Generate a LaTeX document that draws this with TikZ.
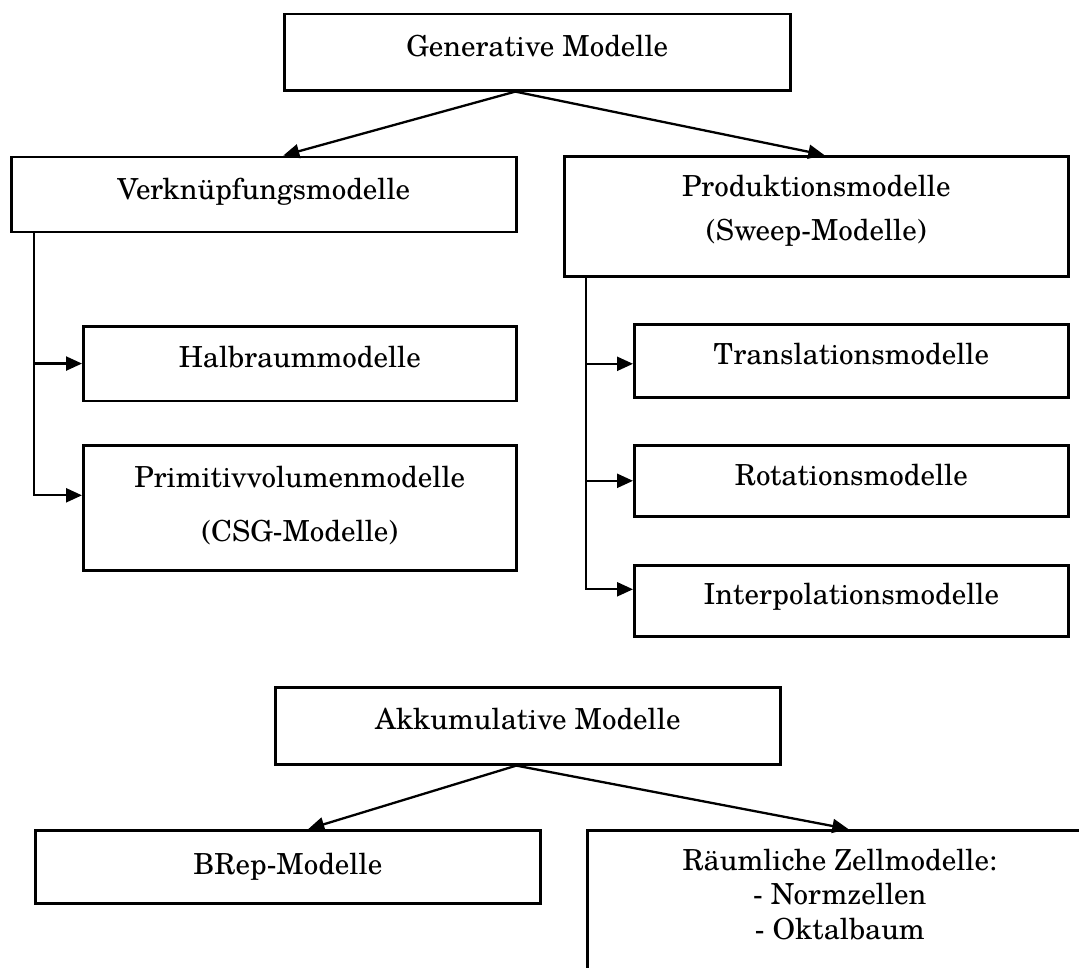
\documentclass[tikz,border=0pt]{standalone}
\usepackage{fontspec}
\setmainfont{TeX Gyre Schola}
\usetikzlibrary{arrows.meta,calc}
\begin{document}
\begin{tikzpicture}[x=1pt,y=-1pt,
  box/.style={draw, line width=2.6pt, rectangle, inner sep=0pt, anchor=north west,
    align=center, font=\fontsize{29}{44}\selectfont},
  wire/.style={line width=2.3pt, line join=miter, -{Triangle[length=16pt,width=14pt]}},
  plain/.style={line width=2.3pt}]
\fill[white] (0,0) rectangle (1079,967);
\useasboundingbox (0,0) rectangle (1079,967);
\clip (0,0) rectangle (1079,967);

% generative models
\node[box, minimum width=506pt, minimum height=76.5pt, text height=43pt, text depth=33.5pt]
  (gen) at (283,12.5) {Generative Modelle};
\node[box, minimum width=505pt, minimum height=75pt, text height=43pt, text depth=32pt]
  (verk) at (10,155.5) {Verknüpfungsmodelle};
\node[box, minimum width=504pt, minimum height=120pt, text height=84pt, text depth=36pt]
  (prod) at (563,155) {Produktionsmodelle\\(Sweep-Modelle)};

\node[box, minimum width=433pt, minimum height=74.5pt, text height=41pt, text depth=33.5pt]
  (halb) at (82,325) {Halbraummodelle};
\node[box, font=\fontsize{29}{54}\selectfont, minimum width=433pt, minimum height=125pt,
  text height=96pt, text depth=29pt]
  (prim) at (82,444) {Primitivvolumenmodelle\\(CSG-Modelle)};

\node[box, minimum width=434pt, minimum height=73pt, text height=40pt, text depth=33pt]
  (trans) at (633,323) {Translationsmodelle};
\node[box, minimum width=434pt, minimum height=71pt, text height=40pt, text depth=31pt]
  (rot) at (633,444) {Rotationsmodelle};
\node[box, minimum width=434pt, minimum height=71pt, text height=39pt, text depth=32pt]
  (interp) at (633,564) {Interpolationsmodelle};

% accumulative models
\node[box, minimum width=505pt, minimum height=77pt, text height=42pt, text depth=35pt]
  (akk) at (274,686) {Akkumulative Modelle};
\node[box, minimum width=505pt, minimum height=73pt, text height=44pt, text depth=29pt]
  (brep) at (34,829) {BRep-Modelle};
\node[box, font=\fontsize{29}{34.5}\selectfont, minimum width=505pt, minimum height=170pt,
  text height=109pt, text depth=61pt]
  (zell) at (586,829) {Räumliche Zellmodelle:\\- Normzellen\\- Oktalbaum};

% hierarchy arrows
\draw[wire] ($(gen.south)+(-22,0)$) -- ($(verk.north)+(19.5,0)$);
\draw[wire] ($(gen.south)+(-22,0)$) -- ($(prod.north)+(8,0)$);

\coordinate (ltrunk) at ($(verk.south west)+(24,0)$);
\draw[wire] (ltrunk) |- ($(prim.west)+(0,-12.5)$);
\draw[wire] (ltrunk |- halb.west) -- (halb.west);

\coordinate (rtrunk) at ($(prod.south west)+(23,0)$);
\draw[wire] (rtrunk) |- ($(interp.west)+(0,-11.5)$);
\draw[wire] (rtrunk |- trans.west) ++(0,3) -- ($(trans.west)+(0,3)$);
\draw[wire] (rtrunk |- rot.west) -- (rot.west);

\draw[wire] ($(akk.south)+(-11.5,0)$) -- ($(brep.north)+(20.5,0)$);
\draw[wire] ($(akk.south)+(-11.5,0)$) -- ($(zell.north)+(8.5,0)$);
\end{tikzpicture}
\end{document}
